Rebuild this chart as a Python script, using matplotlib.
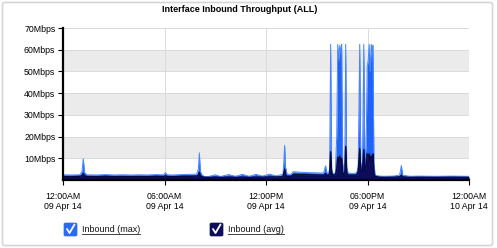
import matplotlib
matplotlib.use("Agg")
import matplotlib.pyplot as plt
from matplotlib.patches import FancyBboxPatch
from matplotlib.lines import Line2D

plt.rcParams["font.family"] = ["Liberation Sans", "DejaVu Sans"]

# DATA (hours since 12:00AM 09 Apr 14, Mbps)
hours = [0.0, 0.5, 1.0, 1.12, 1.2, 1.27, 1.4, 2.0, 2.5, 3.0, 3.5, 4.0, 4.5, 5.0, 5.5,
         5.95, 6.05, 6.15, 6.5, 7.0, 7.5, 7.9, 8.0, 8.06, 8.12, 8.2, 8.35,
         8.6, 9.0, 9.3, 9.8, 10.2, 10.6, 11.0, 11.4, 11.8, 12.2, 12.6, 13.0,
         13.05, 13.1, 13.15, 13.25, 13.5, 13.6, 14.0, 14.5, 15.0, 15.4, 15.52, 15.6,
         15.7, 15.76, 15.82, 15.88, 15.95, 16.1, 16.18, 16.24, 16.3, 16.36, 16.42, 16.47,
         16.53, 16.6, 16.66, 16.71, 16.77, 16.85, 17.1, 17.35, 17.45, 17.54, 17.6, 17.7,
         17.78, 17.84, 17.92, 17.98, 18.04, 18.1, 18.16, 18.22, 18.28, 18.32, 18.38, 18.45,
         18.7, 19.0, 19.5, 19.9, 20.0, 20.08, 20.5, 21.0, 22.0, 23.0, 24.0]

inbound_max = [2.4, 2.3, 2.4, 4.0, 9.8, 3.5, 2.4, 2.3, 2.5, 2.3, 2.4, 2.3, 2.4, 2.3, 2.5,
               2.4, 3.4, 2.4, 2.3, 2.5, 2.6, 2.7, 5.0, 12.5, 4.0, 2.5, 1.6,
               1.6, 2.4, 1.6, 2.5, 1.7, 2.6, 1.7, 2.6, 1.8, 2.7, 1.9, 2.6,
               8.0, 16.0, 6.0, 2.6, 2.7, 3.8, 3.6, 3.4, 3.3, 3.2, 6.5, 3.3,
               3.2, 5.0, 62.5, 5.0, 3.0, 3.2, 20.0, 62.5, 55.0, 62.0, 58.0, 62.5,
               8.0, 3.5, 8.0, 62.5, 6.0, 3.2, 3.0, 3.2, 6.0, 62.5, 8.0, 6.0,
               62.5, 10.0, 15.0, 52.0, 55.0, 62.5, 50.0, 62.5, 58.0, 62.0, 8.0, 2.2,
               1.8, 1.7, 1.8, 2.2, 6.7, 2.2, 1.7, 1.8, 1.7, 1.8, 1.7]

inbound_avg = [1.6, 1.6, 1.7, 2.0, 3.0, 1.9, 1.6, 1.6, 1.7, 1.6, 1.6, 1.6, 1.6, 1.6, 1.7,
               1.6, 2.0, 1.6, 1.6, 1.7, 1.7, 1.8, 2.2, 3.5, 2.0, 1.6, 1.2,
               1.2, 1.3, 1.2, 1.3, 1.2, 1.3, 1.2, 1.3, 1.3, 1.4, 1.4, 1.5,
               3.0, 5.0, 2.5, 1.6, 1.7, 2.6, 2.5, 2.4, 2.3, 2.2, 3.0, 2.1,
               2.2, 3.0, 13.0, 3.5, 2.2, 2.3, 5.0, 10.5, 8.0, 11.0, 9.0, 10.0,
               3.0, 2.5, 4.0, 15.5, 3.0, 2.3, 2.2, 2.3, 4.0, 14.5, 4.5, 4.0,
               14.0, 5.0, 6.0, 12.0, 11.0, 12.0, 9.0, 11.0, 10.0, 12.0, 3.0, 1.6,
               1.3, 1.2, 1.3, 1.4, 2.2, 1.4, 1.2, 1.3, 1.2, 1.3, 1.2]

y_ticks = [10, 20, 30, 40, 50, 60, 70]
y_labels = ["10Mbps", "20Mbps", "30Mbps", "40Mbps", "50Mbps", "60Mbps", "70Mbps"]
x_ticks = [0, 6, 12, 18, 24]
x_labels = ["12:00AM\n09 Apr 14", "06:00AM\n09 Apr 14", "12:00PM\n09 Apr 14",
            "06:00PM\n09 Apr 14", "12:00AM\n10 Apr 14"]
bands = [(10, 20), (30, 40), (50, 60)]

W, H = 497, 248
fig = plt.figure(figsize=(W / 100, H / 100), dpi=100)

# outer frame
fig.patches.append(FancyBboxPatch((2.5 / W, 2.5 / H), 490 / W, 243 / H,
                                  boxstyle="round,pad=0,rounding_size=0.006",
                                  transform=fig.transFigure, fill=False,
                                  edgecolor="#d6d6d6", linewidth=1.2))

ax = fig.add_axes([63 / W, 1 - 180 / H, 406 / W, 152 / H])

for lo, hi in bands:
    ax.axhspan(lo, hi, color="#ebebeb", zorder=0, lw=0)
for y in y_ticks:
    ax.axhline(y, color="#dadada", lw=0.7, zorder=0.5)
for x in x_ticks[1:]:
    ax.axvline(x, color="#dadada", lw=0.7, zorder=0.5)

ax.fill_between(hours, 0, inbound_max, color="#2062f6", lw=0, zorder=2)
ax.plot(hours, inbound_max, color="#4586ff", lw=0.7, zorder=2.5)
ax.fill_between(hours, 0, inbound_avg, color="#0c0c5a", lw=0, zorder=3)
ax.plot(hours, inbound_avg, color="#070740", lw=1.0, zorder=3.5)

ax.set_xlim(0, 24)
ax.set_ylim(0, 70)
ax.set_yticks(y_ticks)
ax.set_yticklabels(y_labels)
ax.set_xticks(x_ticks)
ax.set_xticklabels(x_labels)
ax.tick_params(axis="both", labelsize=6.3, length=3.5, width=0.8, color="black", pad=2)
ax.tick_params(axis="x", pad=5)

for side in ["top", "right"]:
    ax.spines[side].set_visible(False)
ax.spines["left"].set_linewidth(1.6)
ax.spines["bottom"].set_linewidth(1.6)
ax.spines["left"].set_zorder(5)
ax.spines["bottom"].set_zorder(5)

fig.text(240 / W, 1 - 10 / H, "Interface Inbound Throughput (ALL)", ha="center",
         va="center", fontsize=6.5, fontweight="bold")

# legend with checkboxes
legend_items = [("Inbound (max)", "#2a6af7", 64), ("Inbound (avg)", "#0d0d5c", 210)]
fig.canvas.draw()
renderer = fig.canvas.get_renderer()
for label, col, x0 in legend_items:
    box = FancyBboxPatch((x0 / W, 1 - 236 / H), 13 / W, 13 / H,
                         boxstyle="round,pad=0,rounding_size=0.004",
                         transform=fig.transFigure, facecolor=col, edgecolor=col, lw=0.5)
    fig.patches.append(box)
    fig.lines.append(Line2D([(x0 + 3) / W, (x0 + 5.5) / W, (x0 + 10.5) / W],
                            [1 - 229 / H, 1 - 233 / H, 1 - 224.5 / H],
                            transform=fig.transFigure, color="white", lw=1.3,
                            solid_capstyle="round", solid_joinstyle="round"))
    t = fig.text((x0 + 18) / W, 1 - 229 / H, label, ha="left", va="center", fontsize=6.5,
                 color="#111111")
    bb = t.get_window_extent(renderer)
    fig.lines.append(Line2D([bb.x0 / W, bb.x1 / W], [(bb.y0 - 0.5) / H] * 2,
                            transform=fig.transFigure, color="#222222", lw=0.6))

fig.savefig("out.png", dpi=100)
